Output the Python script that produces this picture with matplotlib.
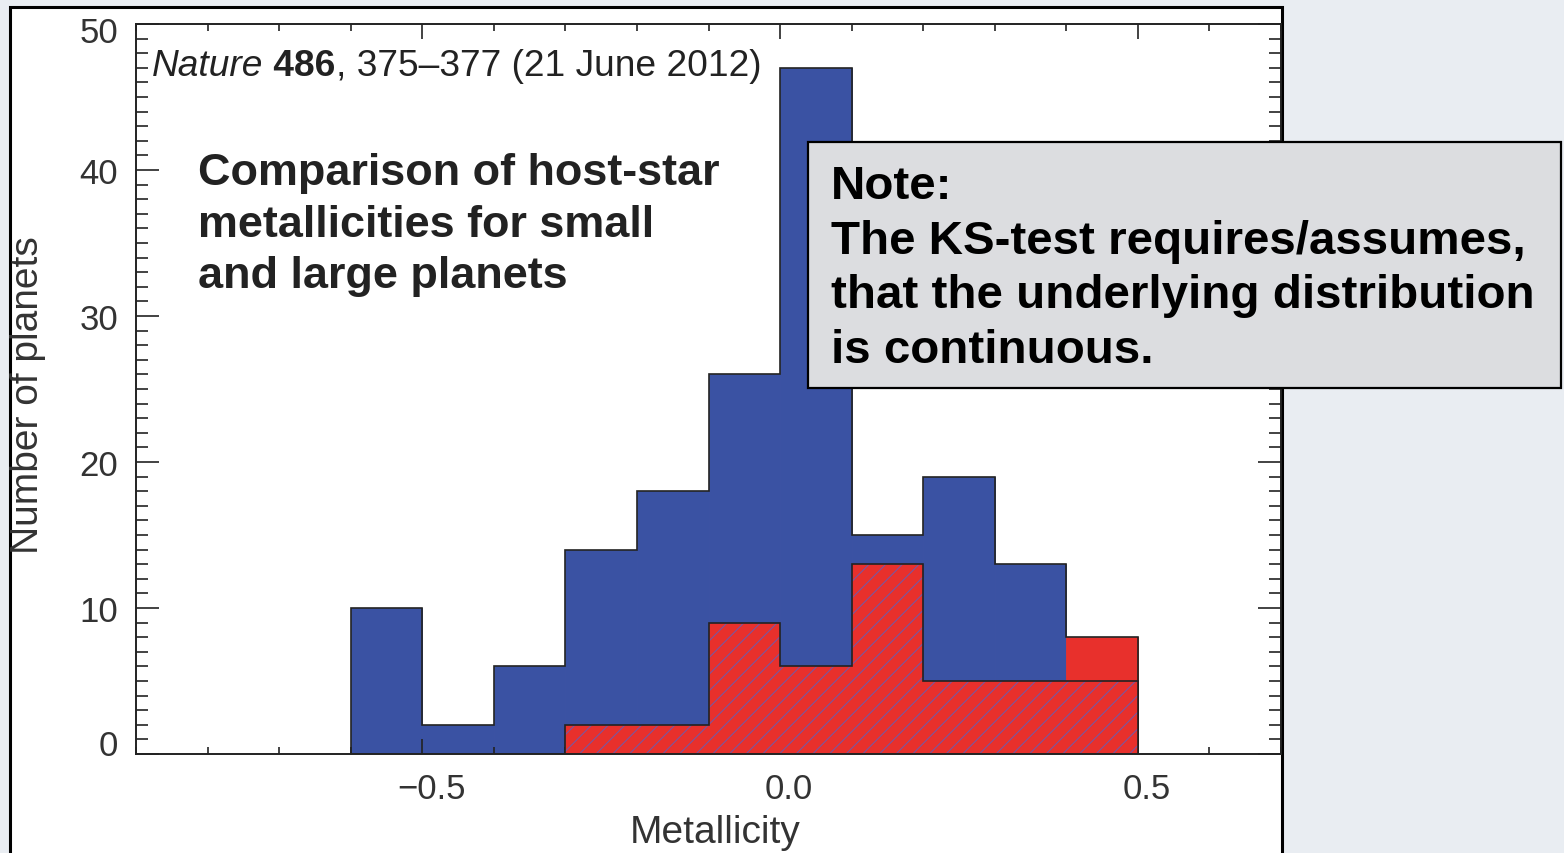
import matplotlib
matplotlib.use("Agg")
import matplotlib.pyplot as plt
from matplotlib.patches import Rectangle
from matplotlib.ticker import MultipleLocator
from matplotlib.transforms import ScaledTranslation

plt.rcParams['font.family'] = ['Liberation Sans', 'DejaVu Sans']
plt.rcParams['hatch.linewidth'] = 0.8

# histogram data (bin width 0.1 in metallicity)
bin_edges = [-0.6, -0.5, -0.4, -0.3, -0.2, -0.1, 0.0, 0.1, 0.2, 0.3, 0.4, 0.5]
large_counts = [10, 2, 6, 14, 18, 26, 47, 15, 19, 13, 8]
small_edges = [-0.4, -0.3, -0.2, -0.1, 0.0, 0.1, 0.2, 0.3, 0.4, 0.5]
small_counts = [0, 2, 2, 9, 6, 13, 5, 5, 5]

x_ticks = [-0.5, 0.0, 0.5]
x_tick_labels = ['\u22120.5', '0.0', '0.5']
y_ticks = [0, 10, 20, 30, 40, 50]

title_text = "Comparison of host-star\nmetallicities for small\nand large planets"
note_text = ("Note:\nThe KS-test requires/assumes,\n"
             "that the underlying distribution\nis continuous.")

blue = '#3a52a3'
red = '#e8302c'
hatch_col = '#7a56a0'
ink = '#222222'
large_colors = [blue] * 10 + [red]

W, H = 1564, 854
fig = plt.figure(figsize=(W / 100, H / 100), dpi=100, facecolor='#e9edf2')

# white frame of the pasted figure
fig.add_artist(Rectangle((10 / W, -0.05), (1282 - 10) / W, 1 - 8 / H + 0.05,
                         transform=fig.transFigure, facecolor='white',
                         edgecolor='black', linewidth=2.2, zorder=-1))

ax = fig.add_axes([136 / W, 99 / H, (1281 - 136) / W, (755 - 25) / H])
ax.patch.set_alpha(0)

lefts = bin_edges[:-1]
widths = [b - a for a, b in zip(bin_edges[:-1], bin_edges[1:])]
ax.bar(lefts, large_counts, width=widths, align='edge', color=large_colors,
       edgecolor=large_colors, linewidth=0.6, zorder=1)
ax.stairs(large_counts, bin_edges, color=ink, linewidth=1.2, baseline=0, zorder=2)
ax.stairs(small_counts, small_edges, fill=True, facecolor=red, edgecolor=hatch_col,
          hatch='//', linewidth=0, zorder=3)
ax.stairs(small_counts, small_edges, color=ink, linewidth=1.2, baseline=0, zorder=4)

ax.set_xlim(-0.9, 0.7)
ax.set_ylim(0, 50)
ax.set_xticks(x_ticks, x_tick_labels)
ax.set_yticks(y_ticks)
ax.xaxis.set_minor_locator(MultipleLocator(0.1))
ax.yaxis.set_minor_locator(MultipleLocator(1))

for s in ax.spines.values():
    s.set_linewidth(1.4)
    s.set_color(ink)
    s.set_zorder(5)

ax.tick_params(which='both', direction='in', top=True, right=True,
               color=ink, width=1.2, labelsize=25, labelcolor='#333333', pad=13)
ax.tick_params(axis='y', which='major', length=16.5)
ax.tick_params(axis='y', which='minor', length=8.5)
ax.tick_params(axis='x', which='major', length=11)
ax.tick_params(axis='x', which='minor', length=5)

# label offsets as in the printed figure
dx = ScaledTranslation(9 / 100, 0, fig.dpi_scale_trans)
for lab in ax.get_xticklabels():
    lab.set_transform(lab.get_transform() + dx)
ylabs = ax.get_yticklabels()
ylabs[0].set_transform(ylabs[0].get_transform() + ScaledTranslation(0, 12 / 100, fig.dpi_scale_trans))
ylabs[-1].set_transform(ylabs[-1].get_transform() + ScaledTranslation(0, -5 / 100, fig.dpi_scale_trans))

ax.set_xlabel('Metallicity', fontsize=28, color='#333333')
ax.xaxis.label.set_va('center')
ax.xaxis.set_label_coords((715 - 136) / 1145, (755 - 833) / 730)
ax.set_ylabel('Number of planets', fontsize=28, color='#333333')
ax.yaxis.label.set_va('center')
ax.yaxis.set_label_coords((28 - 136) / 1145, (755 - 395) / 730)

# citation line
t1 = fig.text(152 / W, 1 - 76 / H, 'Nature', style='italic', fontsize=26.7,
              color=ink, va='baseline')
t2 = ax.annotate(' 486', xy=(1, 0), xycoords=t1, va='bottom', fontsize=26.7,
                 fontweight='bold', color=ink)
ax.annotate(', 375\u2013377 (21 June 2012)', xy=(1, 0), xycoords=t2, va='bottom',
            fontsize=26.7, color=ink)

fig.text(198 / W, 1 - 153 / H, title_text, fontsize=32.4, fontweight='bold',
         color=ink, va='top', linespacing=1.33)

fig.add_artist(Rectangle((808 / W, 1 - 389 / H), 753 / W, 246 / H,
                         transform=fig.transFigure, facecolor='#dcdde0',
                         edgecolor='black', linewidth=1.6, zorder=6))
fig.text(831 / W, 1 - 165 / H, note_text, fontsize=34.2, fontweight='bold',
         color='black', va='top', linespacing=1.31, zorder=7)

fig.savefig('out.png', dpi=100, facecolor=fig.get_facecolor())
